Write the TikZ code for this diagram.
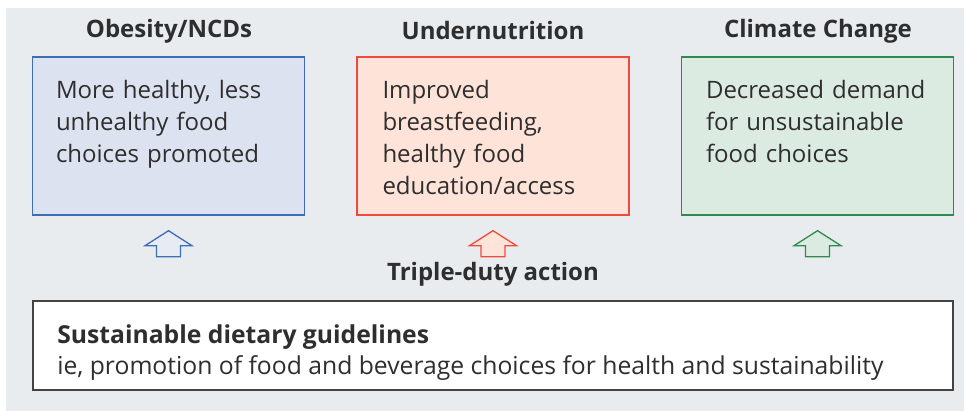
\documentclass[tikz,border=0pt]{standalone}
\usepackage{fontspec}
\setmainfont{Open Sans}
\usetikzlibrary{positioning}
\definecolor{panelgray}{HTML}{E9ECEF}
\definecolor{inkgray}{HTML}{2E2E2E}
\definecolor{obblue}{HTML}{3E6DB5}
\definecolor{obfill}{HTML}{DCE2F0}
\definecolor{unred}{HTML}{EE4B3E}
\definecolor{unfill}{HTML}{FDE3D8}
\definecolor{clgreen}{HTML}{2E8A4F}
\definecolor{clfill}{HTML}{DCEBE2}

\begin{document}
\begin{tikzpicture}[x=1pt,y=-1pt,
  goalbox/.style={draw=#1,line width=1.4pt,minimum width=272pt,minimum height=158pt,inner sep=0pt},
  goaltext/.style={anchor=north west,inner sep=0pt,text width=250pt,align=left,text=inkgray,
    font=\fontsize{24}{32}\selectfont},
  headtext/.style={text=inkgray,inner sep=0pt,font=\fontsize{24}{28}\selectfont\bfseries},
  hollow/.style={draw=#1,line width=1.3pt,line join=miter}]
  \useasboundingbox (0,0) rectangle (964,411);
  \fill[white] (0,0) rectangle (964,411);
  \fill[panelgray] (6,8) rectangle (964,411);

  % three goals
  \node[goalbox=obblue,fill=obfill](obesity) at (168.5,136){};
  \node[goalbox=unred,fill=unfill](undernut) at (493,136){};
  \node[goalbox=clgreen,fill=clfill](climate) at (817.5,136){};

  \node[headtext](obesityhead) at (169,31){Obesity/NCDs};
  \node[headtext](undernuthead) at (493,31){Undernutrition};
  \node[headtext](climatehead) at (818,31){Climate Change};

  \node[goaltext](obesitytxt) at ([xshift=24pt,yshift=-24pt]obesity.north west)
    {More healthy, less\\unhealthy food\\choices promoted};
  \node[goaltext](undernuttxt) at ([xshift=26pt,yshift=-24pt]undernut.north west)
    {Improved\\breastfeeding,\\healthy food\\education/access};
  \node[goaltext](climatetxt) at ([xshift=25pt,yshift=-24pt]climate.north west)
    {Decreased demand\\for unsustainable\\food choices};

  % hollow arrows
  \foreach \goal/\col/\inner in {obesity/obblue/obfill!70!white,undernut/unred/unfill,climate/clgreen/clfill}{
    \coordinate(\goal tip) at ([yshift=-15pt]\goal.south);
    \draw[hollow=\col,fill=\inner] (\goal tip) -- ++(23.5,15) -- ++(-11.5,0) -- ++(0,11)
      -- ++(-24,0) -- ++(0,-11) -- ++(-11.5,0) -- cycle;
  }

  \node[headtext](triple) at (493,274){Triple-duty action};

  % guidelines
  \node[draw=inkgray!90,line width=1.8pt,fill=white,minimum width=920pt,minimum height=89pt,
    inner sep=0pt](guide) at (493,345.5){};
  \node[anchor=north west,inner sep=0pt,text=inkgray,align=left,
    font=\fontsize{24.7}{31}\selectfont](guidetxt) at ([xshift=25pt,yshift=-24pt]guide.north west)
    {\textbf{Sustainable dietary guidelines}\\ie, promotion of food and beverage choices for health and sustainability};
\end{tikzpicture}
\end{document}
